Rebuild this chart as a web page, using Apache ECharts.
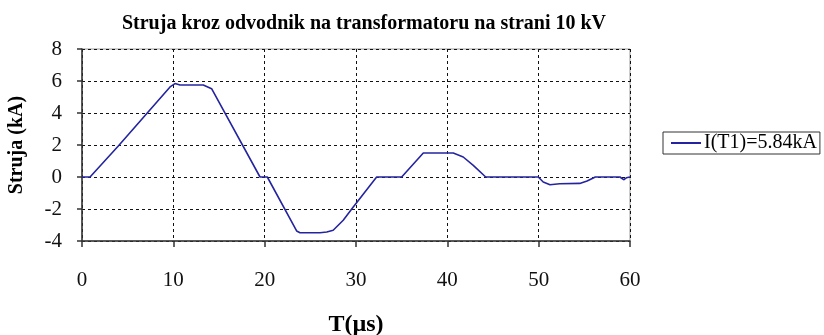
<!DOCTYPE html>
<html>
<head>
<meta charset="utf-8">
<script src="https://cdn.jsdelivr.net/npm/echarts@6/dist/echarts.min.js"></script>
<style>
  html, body { margin: 0; padding: 0; background: #fff; }
  #chart { width: 824px; height: 335px; }
</style>
</head>
<body>
<div id="chart"></div>
<script>
// Arrester current on the 10 kV side of the transformer
const seriesName = 'I(T1)=5.84kA';
const timeUs = [0, 0.88, 4.0, 9.64, 10.18, 10.73, 13.28, 14.19, 19.49, 20.29, 23.5, 23.87, 26.06, 26.8, 27.5, 28.6, 29.7, 32.26, 35.0, 37.37, 40.65, 41.74, 42.84, 44.2, 45.6, 45.8, 46.0, 49.96, 50.5, 51.24, 52.3, 54.5, 55.3, 56.2, 58.9, 59.3, 59.6, 60];
const currentKA = [0, 0, 1.95, 5.63, 5.84, 5.75, 5.75, 5.52, 0, 0, -3.37, -3.48, -3.48, -3.44, -3.33, -2.7, -1.88, 0, 0, 1.5, 1.5, 1.25, 0.73, 0, 0, -0.06, 0, 0, -0.31, -0.48, -0.42, -0.4, -0.25, 0, 0, -0.17, -0.05, 0];
const xTicks = { min: 0, max: 60, interval: 10 };
const yTicks = { min: -4, max: 8, interval: 2 };

const chart = echarts.init(document.getElementById('chart'));
const serif = '"Liberation Serif", "DejaVu Serif", serif';

chart.setOption({
  animation: false,
  backgroundColor: '#fff',
  title: {
    text: 'Struja kroz odvodnik na transformatoru na strani 10 kV',
    left: 359, top: 9, textAlign: 'center',
    textStyle: { fontFamily: serif, fontWeight: 'bold', fontSize: 20, color: '#000' }
  },
  legend: {
    left: 663, top: 132,
    orient: 'vertical',
    borderColor: '#333', borderWidth: 1,
    padding: [1, 3, 1, 8],
    itemWidth: 30, itemHeight: 2, itemGap: 0,
    icon: 'rect',
    textStyle: { fontFamily: serif, fontSize: 20, color: '#000', padding: [0, 0, 0, -2] },
    data: [seriesName]
  },
  grid: {
    left: 82, right: 194, top: 49, bottom: 94,
    outerBoundsMode: 'none', containLabel: false,
    show: true, borderColor: '#999', borderWidth: 1, backgroundColor: 'transparent'
  },
  xAxis: {
    type: 'value',
    min: xTicks.min, max: xTicks.max, interval: xTicks.interval,
    name: 'T(\u00b5s)', nameLocation: 'middle', nameGap: 72,
    nameTextStyle: { fontFamily: serif, fontWeight: 'bold', fontSize: 24, color: '#000' },
    axisLine: { onZero: false, lineStyle: { color: '#333', width: 1.5 } },
    axisTick: { show: true, length: 6, lineStyle: { color: '#333', width: 1.5 } },
    axisLabel: { fontFamily: serif, fontSize: 21, color: '#111', margin: 29 },
    splitLine: { show: true, lineStyle: { color: '#111', type: [3, 3], width: 1 } }
  },
  yAxis: {
    type: 'value',
    min: yTicks.min, max: yTicks.max, interval: yTicks.interval,
    name: 'Struja (kA)', nameLocation: 'middle', nameGap: 55,
    nameTextStyle: { fontFamily: serif, fontWeight: 'bold', fontSize: 20, color: '#000' },
    axisLine: { show: true, onZero: false, lineStyle: { color: '#333', width: 1.5 } },
    axisTick: { show: true, length: 5, lineStyle: { color: '#333', width: 1.5 } },
    axisLabel: { fontFamily: serif, fontSize: 21, color: '#111', margin: 20 },
    splitLine: { show: true, lineStyle: { color: '#111', type: [3, 3], width: 1 } }
  },
  series: [{
    name: seriesName,
    type: 'line',
    data: timeUs.map((t, i) => [t, currentKA[i]]),
    showSymbol: false,
    lineStyle: { color: '#2424a0', width: 1.6 },
    itemStyle: { color: '#2424a0' },
    z: 5
  }]
});
</script>
</body>
</html>
